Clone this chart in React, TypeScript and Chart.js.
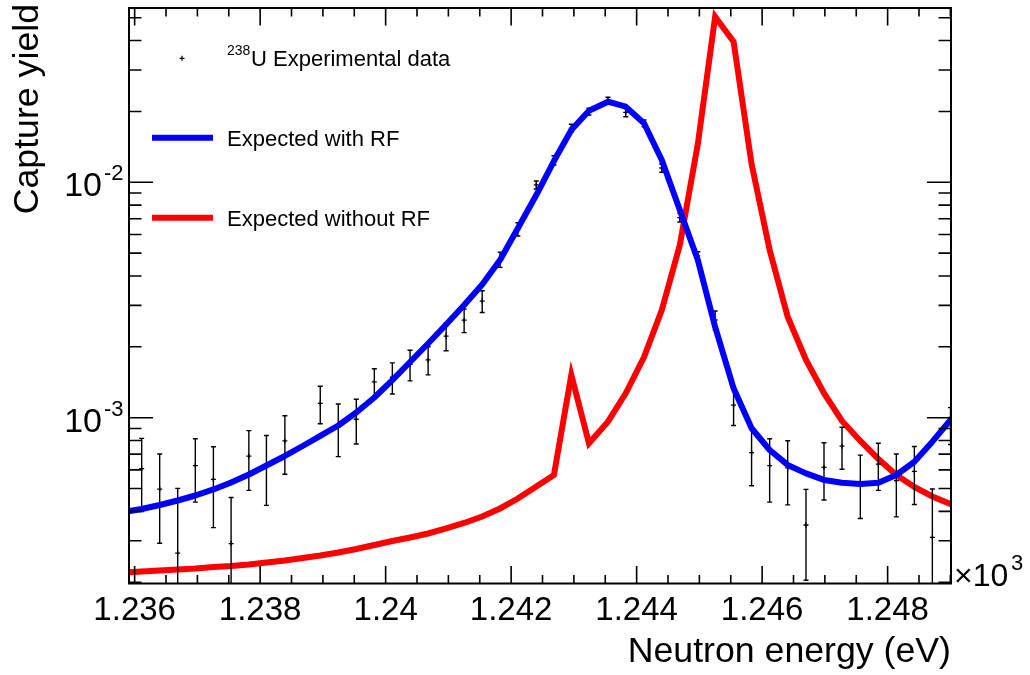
import React, { useEffect, useRef } from "react";
import { Chart, registerables } from "chart.js";

Chart.register(...registerables);

// ---------- data (energies in eV, shown in units of 10^3 eV) ----------
const dataEnergy = [
  1236.112, 1236.399, 1236.686, 1236.967, 1237.255, 1237.537, 1237.82, 1238.1, 1238.394,
  1238.958, 1239.245, 1239.532, 1239.82, 1240.107, 1240.389, 1240.677, 1240.964, 1241.251,
  1241.539, 1241.823, 1242.107, 1242.401, 1242.682, 1242.959, 1243.24, 1243.543, 1243.826,
  1244.118, 1244.401, 1244.688, 1244.975, 1245.251, 1245.545, 1245.832, 1246.12, 1246.407,
  1246.699, 1246.986, 1247.273, 1247.565, 1247.852, 1248.139, 1248.426, 1248.713, 1249.002,
];
const dataYield = [
  6.08e-4, 4.97e-4, 2.66e-4, 6.26e-4, 5.47e-4, 2.92e-4, 6.86e-4, 6.32e-4, 7.97e-4,
  1.151e-3, 9.13e-4, 9.85e-4, 1.42e-3, 1.485e-3, 1.683e-3, 1.76e-3, 2.222e-3, 2.596e-3,
  3.13e-3, 4.7e-3, 6.32e-3, 9.75e-3, 1.24e-2, 1.7e-2, 1.997e-2, 2.224e-2, 1.98e-2,
  1.78e-2, 1.15e-2, 7.08e-3, 4.87e-3, 2.6e-3, 1.13e-3, 7.11e-4, 6.26e-4, 6.12e-4,
  3.5e-4, 6.15e-4, 7.57e-4, 5.33e-4, 6.35e-4, 5.4e-4, 5.91e-4, 3.1e-4, 9.36e-4,
];
const dataError = [
  2.09e-4, 2.04e-4, 2.35e-4, 1.88e-4, 2.06e-4, 1.66e-4, 1.95e-4, 2.08e-4, 2.22e-4,
  2.08e-4, 2.3e-4, 2.12e-4, 1.95e-4, 2.24e-4, 2.5e-4, 2.4e-4, 2.96e-4, 2.99e-4,
  3.3e-4, 3.5e-4, 4.1e-4, 3.8e-4, 5.6e-4, 6.4e-4, 6.6e-4, 7.3e-4, 8.2e-4,
  5.9e-4, 4.6e-4, 3.0e-4, 2.0e-4, 2.4e-4, 2.03e-4, 1.97e-4, 1.88e-4, 1.86e-4,
  1.46e-4, 1.68e-4, 1.53e-4, 1.6e-4, 1.44e-4, 1.61e-4, 1.63e-4, 1.88e-4, 1.67e-4,
];

const curveEnergy = [
  1235.825, 1236.112, 1236.399, 1236.686, 1236.967, 1237.255, 1237.537, 1237.82, 1238.1,
  1238.394, 1238.678, 1238.958, 1239.245, 1239.532, 1239.82, 1240.107, 1240.389, 1240.677,
  1240.964, 1241.251, 1241.539, 1241.823, 1242.107, 1242.401, 1242.682, 1242.959, 1243.24,
  1243.543, 1243.826, 1244.118, 1244.401, 1244.688, 1244.975, 1245.251, 1245.545, 1245.832,
  1246.12, 1246.407, 1246.699, 1246.986, 1247.273, 1247.565, 1247.852, 1248.139, 1248.426,
  1248.713, 1249.002, 1249.29,
];
const withRF = [
  3.976e-4, 4.094e-4, 4.256e-4, 4.448e-4, 4.671e-4, 4.955e-4, 5.304e-4, 5.735e-4, 6.265e-4,
  6.876e-4, 7.581e-4, 8.364e-4, 9.265e-4, 1.052e-3, 1.218e-3, 1.445e-3, 1.724e-3, 2.066e-3,
  2.488e-3, 3.011e-3, 3.68e-3, 4.676e-3, 6.377e-3, 8.83e-3, 1.231e-2, 1.668e-2, 2.015e-2,
  2.2e-2, 2.095e-2, 1.781e-2, 1.243e-2, 7.63e-3, 4.68e-3, 2.43e-3, 1.333e-3, 9.02e-4,
  7.29e-4, 6.3e-4, 5.8e-4, 5.44e-4, 5.29e-4, 5.23e-4, 5.29e-4, 5.71e-4, 6.5e-4,
  7.91e-4, 9.78e-4, 1.248e-3,
];
const withoutRF = [
  2.196e-4, 2.222e-4, 2.244e-4, 2.266e-4, 2.288e-4, 2.322e-4, 2.344e-4, 2.379e-4, 2.426e-4,
  2.474e-4, 2.535e-4, 2.598e-4, 2.675e-4, 2.768e-4, 2.878e-4, 2.993e-4, 3.098e-4, 3.222e-4,
  3.383e-4, 3.57e-4, 3.804e-4, 4.114e-4, 4.536e-4, 5.1e-4, 5.707e-4, 1.518e-3, 7.785e-4,
  9.616e-4, 1.27e-3, 1.81e-3, 2.867e-3, 5.414e-3, 1.453e-2, 5.051e-2, 3.957e-2, 1.195e-2,
  5.157e-3, 2.686e-3, 1.758e-3, 1.27e-3, 9.683e-4, 7.962e-4, 6.676e-4, 5.707e-4, 5.076e-4,
  4.626e-4, 4.298e-4, 4.015e-4,
];

const xMajorTicks = [1236, 1238, 1240, 1242, 1244, 1246, 1248];
const xTickLabels = ["1.236", "1.238", "1.24", "1.242", "1.244", "1.246", "1.248"];
const yMajorTicks = [1e-3, 1e-2];
const yTickExponents = ["-3", "-2"];

const X_MIN = 1235.91;
const X_MAX = 1249.01;
const Y_MIN = 1.975e-4;
const Y_MAX = 0.05501;

const FONT = '"Liberation Sans", Arial, Helvetica, sans-serif';
const BLUE = "#0000ff";
const RED = "#ff0000";

const rootPlugin = {
  id: "rootStyle",
  beforeDatasetDraw(chart: any, args: any) {
    if (args.index !== 0) return;
    const ctx = chart.ctx as CanvasRenderingContext2D;
    const xs = chart.scales.x;
    const ys = chart.scales.y;
    const a = chart.chartArea;
    ctx.save();
    ctx.beginPath();
    ctx.rect(a.left, a.top, a.right - a.left, a.bottom - a.top);
    ctx.clip();
    ctx.strokeStyle = "#000";
    ctx.lineWidth = 1.4;
    for (let i = 0; i < dataEnergy.length; i++) {
      const px = xs.getPixelForValue(dataEnergy[i]);
      const hi = dataYield[i] + dataError[i];
      const loV = dataYield[i] - dataError[i];
      const yTop = ys.getPixelForValue(hi);
      const yBot = loV > 0 ? ys.getPixelForValue(loV) : a.bottom + 20;
      ctx.beginPath();
      ctx.moveTo(px, yTop);
      ctx.lineTo(px, yBot);
      ctx.moveTo(px - 2.5, yTop);
      ctx.lineTo(px + 2.5, yTop);
      ctx.moveTo(px - 2.5, yBot);
      ctx.lineTo(px + 2.5, yBot);
      ctx.stroke();
    }
    ctx.restore();
  },
  afterDraw(chart: any) {
    const ctx = chart.ctx as CanvasRenderingContext2D;
    const xs = chart.scales.x;
    const ys = chart.scales.y;
    const a = chart.chartArea;
    ctx.save();
    ctx.strokeStyle = "#000";
    ctx.fillStyle = "#000";
    ctx.lineWidth = 2;
    ctx.strokeRect(a.left, a.top, a.right - a.left, a.bottom - a.top);

    // x ticks (bottom & top, inward)
    ctx.lineWidth = 1.6;
    ctx.beginPath();
    for (let v = Math.ceil(X_MIN * 2) / 2; v <= X_MAX + 1e-9; v += 0.5) {
      const px = xs.getPixelForValue(v);
      const major = Math.abs((v - 1236) / 2 - Math.round((v - 1236) / 2)) < 1e-6;
      const len = major ? 17.5 : 8.5;
      ctx.moveTo(px, a.bottom);
      ctx.lineTo(px, a.bottom - len);
      ctx.moveTo(px, a.top);
      ctx.lineTo(px, a.top + len);
    }
    // y ticks (left & right, inward)
    for (let k = -4; k <= -1; k++) {
      for (let m = 1; m <= 9; m++) {
        const v = m * Math.pow(10, k);
        if (v < Y_MIN || v > Y_MAX) continue;
        const py = ys.getPixelForValue(v);
        const len = m === 1 ? 24 : 12.5;
        ctx.moveTo(a.left, py);
        ctx.lineTo(a.left + len, py);
        ctx.moveTo(a.right, py);
        ctx.lineTo(a.right - len, py);
      }
    }
    ctx.stroke();

    // x tick labels
    ctx.font = `33px ${FONT}`;
    ctx.textAlign = "center";
    ctx.textBaseline = "alphabetic";
    xMajorTicks.forEach((v, i) => {
      ctx.fillText(xTickLabels[i], xs.getPixelForValue(v), 620);
    });
    // x10^3
    ctx.textAlign = "left";
    ctx.font = `32px ${FONT}`;
    ctx.fillText("\u00d710", 954, 586);
    ctx.font = `22px ${FONT}`;
    ctx.fillText("3", 1011, 570);

    // y tick labels
    yMajorTicks.forEach((v, i) => {
      const py = ys.getPixelForValue(v);
      ctx.textAlign = "right";
      ctx.font = `34px ${FONT}`;
      ctx.fillText("10", 102, py + 14);
      ctx.textAlign = "left";
      ctx.font = `22px ${FONT}`;
      ctx.fillText(yTickExponents[i], 104, py - 2);
    });

    // axis titles
    ctx.font = `35.7px ${FONT}`;
    ctx.textAlign = "right";
    ctx.fillText("Neutron energy (eV)", 951, 662);
    ctx.save();
    ctx.translate(38, 4);
    ctx.rotate(-Math.PI / 2);
    ctx.textAlign = "right";
    ctx.fillText("Capture yield", 0, 0);
    ctx.restore();

    // legend
    ctx.lineWidth = 1.2;
    ctx.beginPath();
    ctx.moveTo(179.5, 58.3);
    ctx.lineTo(184.5, 58.3);
    ctx.moveTo(182, 55.8);
    ctx.lineTo(182, 60.8);
    ctx.stroke();
    ctx.textAlign = "left";
    ctx.font = `14px ${FONT}`;
    ctx.fillText("238", 227, 55);
    ctx.font = `22px ${FONT}`;
    ctx.fillText("U Experimental data", 251, 65.5);
    ctx.lineWidth = 6;
    ctx.lineCap = "butt";
    ctx.strokeStyle = BLUE;
    ctx.beginPath();
    ctx.moveTo(152, 137.7);
    ctx.lineTo(213, 137.7);
    ctx.stroke();
    ctx.strokeStyle = RED;
    ctx.beginPath();
    ctx.moveTo(152, 217.8);
    ctx.lineTo(213, 217.8);
    ctx.stroke();
    ctx.fillText("Expected with RF", 227, 145.7);
    ctx.fillText("Expected without RF", 227, 225.7);
    ctx.restore();
  },
};

export default function App() {
  const ref = useRef<HTMLCanvasElement>(null);
  useEffect(() => {
    const canvas = ref.current!;
    const chart = new Chart(canvas, {
      type: "line",
      data: {
        datasets: [
          {
            label: "238U Experimental data",
            data: dataEnergy.map((x, i) => ({ x, y: dataYield[i] })),
            showLine: false,
            pointStyle: "cross",
            pointRadius: 2.5,
            pointBorderWidth: 1.3,
            pointBorderColor: "#000",
            pointBackgroundColor: "#000",
            borderColor: "#000",
            order: 1,
            clip: 0,
          },
          {
            label: "Expected with RF",
            data: curveEnergy.map((x, i) => ({ x, y: withRF[i] })),
            borderColor: BLUE,
            borderWidth: 6,
            pointRadius: 0,
            tension: 0,
            borderJoinStyle: "round",
            order: 0,
            clip: 0,
          },
          {
            label: "Expected without RF",
            data: curveEnergy.map((x, i) => ({ x, y: withoutRF[i] })),
            borderColor: RED,
            borderWidth: 6,
            pointRadius: 0,
            tension: 0,
            borderJoinStyle: "miter",
            order: 2,
            clip: 0,
          },
        ],
      },
      options: {
        responsive: false,
        animation: false,
        devicePixelRatio: 1,
        events: [],
        layout: { padding: { left: 129, right: 79, top: 8, bottom: 91.5 } },
        plugins: { legend: { display: false }, tooltip: { enabled: false } },
        scales: {
          x: { type: "linear", min: X_MIN, max: X_MAX, display: false, bounds: "data" },
          y: { type: "logarithmic", min: Y_MIN, max: Y_MAX, display: false, bounds: "data" },
        },
      },
      plugins: [rootPlugin],
    } as any);
    return () => chart.destroy();
  }, []);
  return (
    <div style={{ position: "absolute", left: 0, top: 0, width: 1030, height: 675, background: "#fff" }}>
      <canvas ref={ref} width={1030} height={675} style={{ display: "block" }} />
    </div>
  );
}
